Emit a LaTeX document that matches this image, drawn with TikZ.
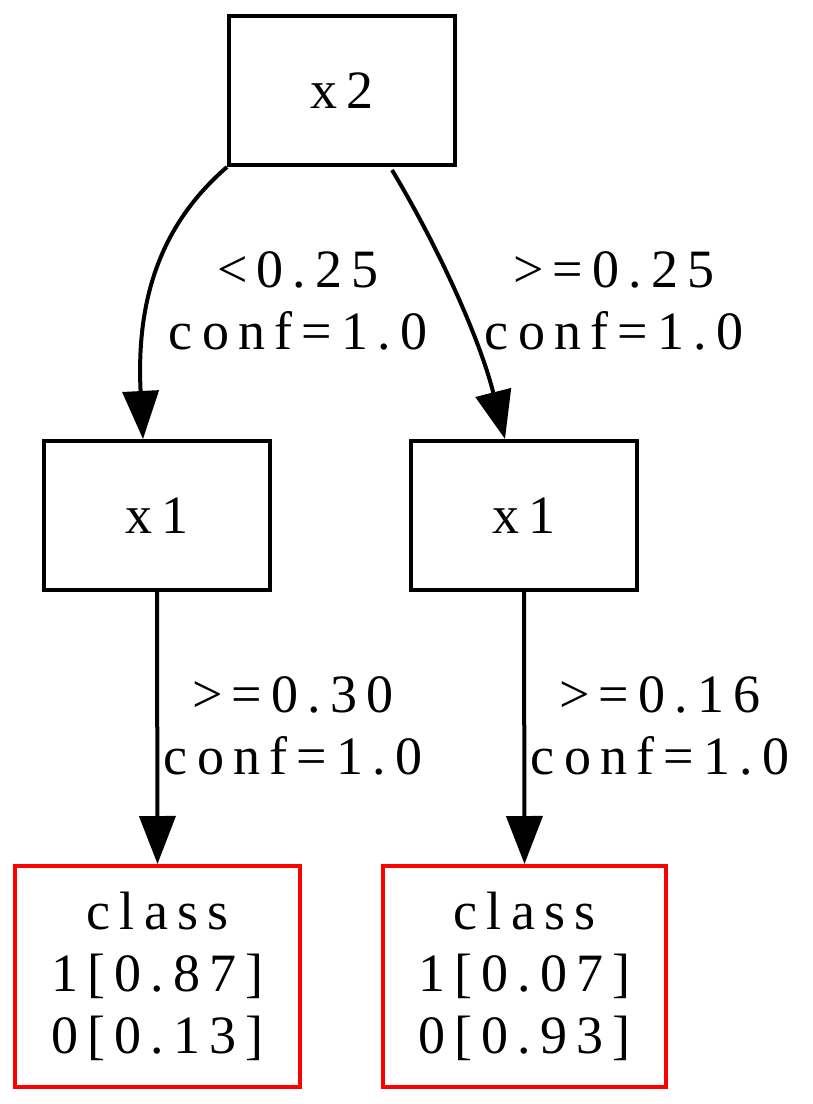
\documentclass[tikz,border=0pt]{standalone}
\usepackage{fontspec}
\setmainfont{Liberation Serif}[LetterSpace=17]
\usetikzlibrary{arrows.meta,calc}
\begin{document}
\begin{tikzpicture}[x=1pt,y=-1pt,
  txt/.style={font=\fontsize{54}{62}\selectfont},
  box/.style={txt,draw=black,line width=4pt,minimum width=226pt,minimum height=149pt,inner sep=0pt},
  leaf/.style={txt,draw=red,line width=4pt,minimum height=221pt,inner sep=0pt,align=center},
  edgearrow/.style={line width=4pt,-{Triangle[length=48pt,width=36pt]}},
  lab/.style={txt,align=center,inner sep=0pt}]
\useasboundingbox (0,0) rectangle (813,1104);
\node[box] (top) at (342,90.5) {x2};
\node[box] (l1) at (157,515.5) {x1};
\node[box] (r1) at (524,515.5) {x1};
\node[leaf,minimum width=285pt] (l2) at (157.5,976.5) {class\\1[0.87]\\0[0.13]};
\node[leaf,minimum width=283pt] (r2) at (524.5,976.5) {class\\1[0.07]\\0[0.93]};
\draw[edgearrow] (top.south west) .. controls (160,225) and (136,300) .. ($(l1.north)+(-14,0)$);
\draw[edgearrow] ($(top.south)+(50,3)$) .. controls (440,250) and (480,340) .. ($(r1.north)+(-19,0)$);
\draw[edgearrow] (l1.south) -- (l2.north);
\draw[edgearrow] (r1.south) -- (r2.north);
\node[lab] (e1) at (298,301) {<0.25\\conf=1.0};
\node[lab] (e2) at (614,301) {>=0.25\\conf=1.0};
\node[lab] (e3) at (293,726) {>=0.30\\conf=1.0};
\node[lab] (e4) at (660,726) {>=0.16\\conf=1.0};
\end{tikzpicture}
\end{document}
